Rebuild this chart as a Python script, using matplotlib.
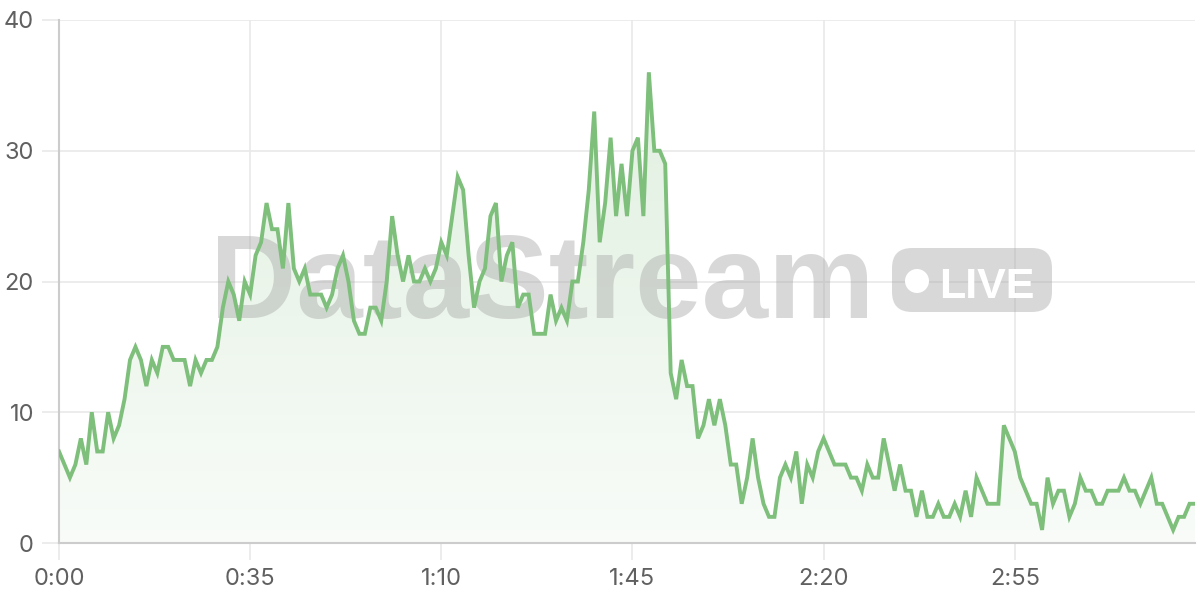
import numpy as np
import matplotlib
matplotlib.use("Agg")
import matplotlib.pyplot as plt
from matplotlib.patches import FancyBboxPatch, Circle, PathPatch
from matplotlib.transforms import IdentityTransform
from matplotlib.colors import LinearSegmentedColormap

# ---- data (one value per second) ----
values = [
    7, 6, 5, 6, 8, 6, 10, 7, 7, 10,
    8, 9, 11, 14, 15, 14, 12, 14, 13, 15,
    15, 14, 14, 14, 12, 14, 13, 14, 14, 15,
    18, 20, 19, 17, 20, 19, 22, 23, 26, 24,
    24, 21, 26, 21, 20, 21, 19, 19, 19, 18,
    19, 21, 22, 20, 17, 16, 16, 18, 18, 17,
    20, 25, 22, 20, 22, 20, 20, 21, 20, 21,
    23, 22, 25, 28, 27, 22, 18, 20, 21, 25,
    26, 20, 22, 23, 18, 19, 19, 16, 16, 16,
    19, 17, 18, 17, 20, 20, 23, 27, 33, 23,
    26, 31, 25, 29, 25, 30, 31, 25, 36, 30,
    30, 29, 13, 11, 14, 12, 12, 8, 9, 11,
    9, 11, 9, 6, 6, 3, 5, 8, 5, 3,
    2, 2, 5, 6, 5, 7, 3, 6, 5, 7,
    8, 7, 6, 6, 6, 5, 5, 4, 6, 5,
    5, 8, 6, 4, 6, 4, 4, 2, 4, 2,
    2, 3, 2, 2, 3, 2, 4, 2, 5, 4,
    3, 3, 3, 9, 8, 7, 5, 4, 3, 3,
    1, 5, 3, 4, 4, 2, 3, 5, 4, 4,
    3, 3, 4, 4, 4, 5, 4, 4, 3, 4,
    5, 3, 3, 2, 1, 2, 2, 3, 3,
]
seconds = list(range(len(values)))
x_tick_seconds = [0, 35, 70, 105, 140, 175]
x_tick_labels = ["0:00", "0:35", "1:10", "1:45", "2:20", "2:55"]
y_ticks = [0, 10, 20, 30, 40]
y_tick_labels = ["0", "10", "20", "30", "40"]

LINE = "#7dbf7b"
GRID = "#e9e9e9"
AXIS = "#cccccc"
LABEL = "#606060"

plt.rcParams["font.family"] = ["Inter", "DejaVu Sans"]

fig = plt.figure(figsize=(12, 6), dpi=100)
ax = fig.add_axes([59 / 1200, 57 / 600, (1195 - 59) / 1200, (543 - 20) / 600])

x = np.array(seconds, dtype=float)
y = np.array(values, dtype=float)

ax.set_xlim(0, seconds[-1])
ax.set_ylim(0, 40)

# gradient fill under the line
fill = ax.fill_between(x, 0, y, color="none", linewidth=0, zorder=1)
grad = np.linspace(0.05, 0.26, 256).reshape(-1, 1)
cmap = LinearSegmentedColormap.from_list("g", ["#ffffff", LINE])
img = ax.imshow(grad, cmap=cmap, vmin=0, vmax=1, aspect="auto",
                extent=[0, seconds[-1], 0, 40], origin="lower", zorder=1,
                interpolation="bilinear")
paths = fill.get_paths()
clip = PathPatch(paths[0], transform=ax.transData, facecolor="none", edgecolor="none")
ax.add_patch(clip)
img.set_clip_path(clip)

ax.plot(x, y, color=LINE, linewidth=2.8, solid_joinstyle="miter", zorder=4)

# watermark
wm_col = "#a4a4a4"
ax.text(210, 600 - 318, "DataStream", transform=IdentityTransform(),
        fontsize=86, fontweight="bold", family=["Liberation Sans", "DejaVu Sans"],
        color=wm_col, alpha=0.42, ha="left", va="baseline", zorder=3, clip_on=False)
badge = FancyBboxPatch((892 + 20, 600 - 312 + 20), 160 - 40, 64 - 40,
                       boxstyle="round,pad=20", transform=IdentityTransform(),
                       facecolor=wm_col, edgecolor="none", alpha=0.42, zorder=3, clip_on=False)
ax.add_patch(badge)
ax.add_patch(Circle((917, 600 - 281), 12, transform=IdentityTransform(),
                    facecolor="white", edgecolor="none", zorder=3.1, clip_on=False))
ax.text(939, 600 - 298, "LIVE", transform=IdentityTransform(),
        fontsize=31, fontweight="bold", family=["Liberation Sans", "DejaVu Sans"],
        color="white", ha="left", va="baseline", zorder=3.1, clip_on=False)

# axes styling
ax.set_xticks(x_tick_seconds)
ax.set_xticklabels(x_tick_labels)
ax.set_yticks(y_ticks)
ax.set_yticklabels(y_tick_labels)
ax.grid(True, color=GRID, linewidth=1.2, zorder=0)
ax.set_axisbelow(True)
for s in ["top", "right"]:
    ax.spines[s].set_visible(False)
for s in ["left", "bottom"]:
    ax.spines[s].set_color(AXIS)
    ax.spines[s].set_linewidth(1.5)
ax.tick_params(axis="both", length=12, width=1.2, color=GRID, labelcolor=LABEL,
               labelsize=17, pad=6)

fig.savefig("out.png", dpi=100)
